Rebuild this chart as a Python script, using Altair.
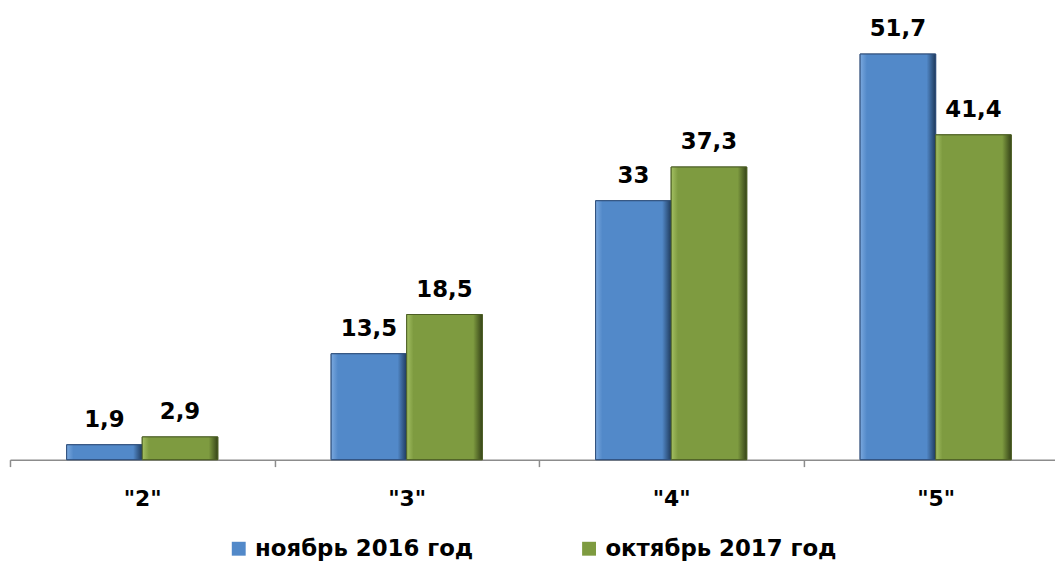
import altair as alt
import pandas as pd

categories = ['"2"', '"3"', '"4"', '"5"']
series = ["ноябрь 2016 год", "октябрь 2017 год"]
nov_2016 = [1.9, 13.5, 33, 51.7]
oct_2017 = [2.9, 18.5, 37.3, 41.4]
colors = ["#5289C9", "#7E9B40"]
strokes = ["#2F4F7A", "#4C5E24"]
grad_stops = [
    ["#7AA8DE", "#5289C9", "#5289C9", "#1F3A5C"],
    ["#A3BF62", "#7E9B40", "#7E9B40", "#364418"],
]

def fmt(v):
    s = ("%g" % v)
    return s.replace(".", ",")

rows = []
for name, vals in zip(series, [nov_2016, oct_2017]):
    for c, v in zip(categories, vals):
        rows.append({"cat": c, "series": name, "value": v, "label": fmt(v)})
df = pd.DataFrame(rows)

FONT = "DejaVu Sans"

xscale = alt.Scale(domain=categories, rangeMax=1066, paddingInner=0, paddingOuter=0)
x = alt.X("cat:N", sort=categories, scale=xscale,
          axis=alt.Axis(title=None, labelAngle=0, tickBand="extent",
                        domainColor="#8C8C8C", domainWidth=1.5,
                        tickColor="#8C8C8C", tickWidth=1.5, tickSize=7,
                        labelFontSize=22, labelFontWeight="bold", labelColor="#000000",
                        labelFont=FONT, labelPadding=22, grid=False))
xo = alt.XOffset("series:N", sort=series,
                 scale=alt.Scale(domain=series, paddingOuter=0.75, paddingInner=0))
y = alt.Y("value:Q", scale=alt.Scale(domain=[0, 57.3], nice=False, zero=True), axis=None)

bars = alt.Chart(df).mark_bar(strokeWidth=1).encode(
    x=x, xOffset=xo, y=y,
    color=alt.Color("series:N", sort=series,
                    scale=alt.Scale(domain=series, range=colors),
                    legend=alt.Legend(orient="none", legendX=219, legendY=531,
                                      direction="horizontal", title=None,
                                      symbolType="square", symbolSize=196,
                                      symbolStrokeWidth=0, labelLimit=0,
                                      labelFontSize=23, labelFontWeight="bold",
                                      labelFont=FONT, labelColor="#000000",
                                      columnPadding=105, labelOffset=5)),
    stroke=alt.Stroke("series:N", sort=series,
                      scale=alt.Scale(domain=series, range=strokes), legend=None),
)

overlays = []
for name, st, sc in zip(series, grad_stops, strokes):
    g = alt.Gradient(gradient="linear", x1=0, x2=1, y1=0, y2=0, stops=[
        alt.GradientStop(offset=0, color=st[0]),
        alt.GradientStop(offset=0.09, color=st[1]),
        alt.GradientStop(offset=0.88, color=st[2]),
        alt.GradientStop(offset=1, color=st[3]),
    ])
    overlays.append(
        alt.Chart(df).transform_filter(alt.datum.series == name)
        .mark_bar(color=g, stroke=sc, strokeWidth=1)
        .encode(x=alt.X("cat:N", sort=categories, scale=xscale), xOffset=xo, y=y)
    )

text = alt.Chart(df).mark_text(dy=-18, baseline="alphabetic", fontSize=23,
                               fontWeight="bold", font=FONT, color="#000000").encode(
    x=alt.X("cat:N", sort=categories, scale=xscale), xOffset=xo, y=y,
    text="label:N",
)

chart = alt.layer(bars, *overlays, text).properties(
    width=1053, height=453,
    autosize=alt.AutoSizeParams(type="none"),
    padding={"left": 2, "top": 0, "right": 0, "bottom": 100},
).configure_view(stroke=None)

chart.save("out.html", embed_options={"renderer": "svg", "actions": False})
